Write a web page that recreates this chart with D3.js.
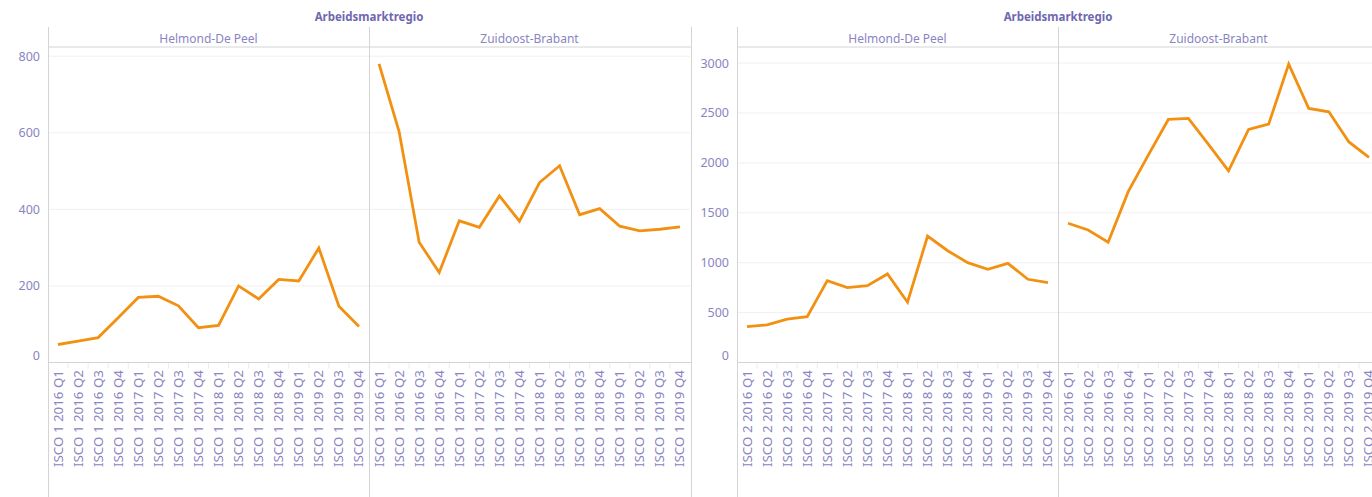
<!DOCTYPE html>
<html>
<head>
<meta charset="utf-8">
<script src="https://cdn.jsdelivr.net/npm/d3@7"></script>
<style>
  body { margin: 0; background: #fff; }
  svg { display: block; font-family: "Noto Sans", Lato, sans-serif; }
</style>
</head>
<body>
<div id="chart"></div>
<script>
const quarters = ["2016 Q1", "2016 Q2", "2016 Q3", "2016 Q4",
                  "2017 Q1", "2017 Q2", "2017 Q3", "2017 Q4",
                  "2018 Q1", "2018 Q2", "2018 Q3", "2018 Q4",
                  "2019 Q1", "2019 Q2", "2019 Q3", "2019 Q4"];
const regions = ["Helmond-De Peel", "Zuidoost-Brabant"];
const isco1Helmond = [47, 56, 65, 117, 170, 173, 148, 91, 97, 200, 166, 217, 213, 299, 147, 94];
const isco1Zuidoost = [780, 603, 314, 235, 370, 353, 435, 369, 470, 514, 386, 402, 356, 344, 348, 354];
const isco2Helmond = [360, 377, 434, 460, 820, 750, 770, 887, 604, 1267, 1120, 1000, 934, 994, 834, 800];
const isco2Zuidoost = [1395, 1328, 1205, 1712, 2078, 2435, 2445, 2185, 1921, 2335, 2388, 2990, 2545, 2512, 2210, 2055];
const isco1Ticks = [0, 200, 400, 600, 800];
const isco2Ticks = [0, 500, 1000, 1500, 2000, 2500, 3000];

const width = 1372, height = 497;
const textColor = "#8a84c2", titleColor = "#6f67b1", lineColor = "#f29111";
const borderColor = "#d4d4d4", gridColor = "#f0f0f0";
const frameTop = 27, headerBottom = 47, axisY = 362.5, panelW = 321;

const svg = d3.select("#chart").append("svg").attr("width", width).attr("height", height);

const charts = [
  {prefix: "ISCO 1", left: 48, yMax: 824, ticks: isco1Ticks, series: [isco1Helmond, isco1Zuidoost]},
  {prefix: "ISCO 2", left: 737, yMax: 3161, ticks: isco2Ticks, series: [isco2Helmond, isco2Zuidoost]}
];

charts.forEach(c => {
  const g = svg.append("g");
  const right = c.left + panelW * regions.length;
  const y = d3.scaleLinear().domain([0, c.yMax]).range([axisY, headerBottom]);

  // title over both panels
  g.append("text").attr("x", c.left + panelW).attr("y", 21)
    .attr("text-anchor", "middle").attr("fill", titleColor)
    .attr("font-size", 11.5).attr("font-weight", "bold").text("Arbeidsmarktregio");

  // gridlines
  g.selectAll("line.grid").data(c.ticks.filter(t => t > 0)).enter().append("line")
    .attr("x1", c.left).attr("x2", right)
    .attr("y1", d => y(d)).attr("y2", d => y(d))
    .attr("stroke", gridColor).attr("stroke-width", 1);

  // y axis labels
  const yAxis = d3.axisLeft(y).tickValues(c.ticks).tickFormat(d3.format("d"))
    .tickSize(0).tickPadding(8);
  const ya = g.append("g").attr("transform", `translate(${c.left},0)`).call(yAxis);
  ya.select(".domain").remove();
  ya.selectAll("text").attr("fill", textColor).attr("font-size", 12.5)
    .attr("font-family", "'Noto Sans', Lato, sans-serif")
    .attr("dy", d => d === 0 ? "-0.25em" : "0.32em");

  regions.forEach((r, i) => {
    const x0 = c.left + panelW * i;
    const x = d3.scaleBand().domain(quarters).range([x0, x0 + panelW]);
    const pg = g.append("g");

    pg.append("text").attr("x", x0 + panelW / 2).attr("y", 43)
      .attr("text-anchor", "middle").attr("fill", textColor)
      .attr("font-size", 12).text(r);

    // tick marks between categories
    pg.selectAll("line.tick").data(quarters.slice(1)).enter().append("line")
      .attr("x1", d => x(d)).attr("x2", d => x(d))
      .attr("y1", axisY).attr("y2", axisY + 6)
      .attr("stroke", "#ececec");

    // x labels
    pg.selectAll("text.xl").data(quarters).enter().append("text")
      .attr("transform", d => `translate(${x(d) + x.bandwidth() / 2 + 4.5},370) rotate(-90)`)
      .attr("text-anchor", "end").attr("fill", textColor)
      .attr("font-size", 12).attr("textLength", 97).attr("lengthAdjust", "spacingAndGlyphs")
      .text(d => `${c.prefix} ${d}`);

    const line = d3.line()
      .x((d, k) => x(quarters[k]) + x.bandwidth() / 2)
      .y(d => y(d));
    pg.append("path").datum(c.series[i]).attr("d", line)
      .attr("fill", "none").attr("stroke", lineColor)
      .attr("stroke-width", 2.8).attr("stroke-linejoin", "miter");
  });

  // borders
  g.append("line").attr("x1", c.left).attr("x2", right + 1)
    .attr("y1", headerBottom).attr("y2", headerBottom).attr("stroke", borderColor);
  g.append("line").attr("x1", c.left).attr("x2", right + 1)
    .attr("y1", axisY).attr("y2", axisY).attr("stroke", borderColor);
  [0, 1, 2].forEach(k => {
    const xv = c.left + panelW * k + (k === 2 ? 1 : 0);
    g.append("line").attr("x1", xv + 0.5).attr("x2", xv + 0.5)
      .attr("y1", frameTop).attr("y2", height).attr("stroke", borderColor);
  });
});
</script>
</body>
</html>
